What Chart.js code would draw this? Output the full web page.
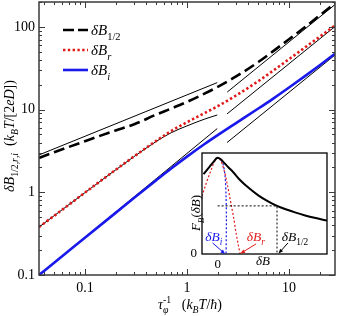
<!DOCTYPE html>
<html><head><meta charset="utf-8">
<script src="https://cdn.jsdelivr.net/npm/chart.js@4"></script>
<style>
html,body{margin:0;padding:0;background:#fff;overflow:hidden}
#wrap{position:relative;width:339px;height:316px}
#main{position:absolute;left:0;top:0}
#inset{position:absolute;left:180px;top:145px}
</style></head><body>
<div id="wrap"><canvas id="main" width="339" height="316"></canvas><canvas id="inset" width="155" height="130"></canvas></div>
<script>
// ---------- main chart data ----------
const tauInv   = [0.0355, 0.05, 0.1, 0.2, 0.3, 0.5, 0.7, 1, 1.5, 2, 3, 5, 7, 10, 15, 20, 28.2];
const dBhalf   = [2.6, 3.05, 4.15, 5.6, 6.6, 8.7, 10.3, 12.4, 15.7, 18.8, 25.0, 37.6, 50.9, 70.9, 104, 138, 193];
const dBr      = [0.38, 0.52, 0.99, 1.87, 2.69, 4.19, 5.5, 7.04, 9.12, 11.0, 14.7, 22.1, 29.6, 40.8, 58.8, 76.2, 104];
const dBi      = [0.1, 0.141, 0.282, 0.564, 0.846, 1.40, 1.94, 2.7, 3.86, 4.91, 6.82, 10.3, 13.6, 18.5, 26.5, 34.4, 47.4];
// asymptotes (thin black)
const asymHalfLoX = [0.0355, 1.98],  asymHalfLoY = [2.83, 21.2];
const asymHalfHiX = [2.48, 28.2],    asymHalfHiY = [16.3, 186];
const asymRLoX    = [0.0355, 0.1, 0.3, 0.5, 0.7, 1, 1.5, 1.98], asymRLoY = [0.38, 0.99, 2.68, 4.12, 5.25, 6.35, 7.7, 8.6];
const asymRHiX    = [2.47, 28.2],    asymRHiY    = [8.87, 101];
const asymILoX    = [0.0355, 1.98],  asymILoY    = [0.1, 5.9];
const asymIHiX    = [2.47, 28.2],    asymIHiY    = [4.0, 45.7];
const xTicks = [0.1, 1, 10];
const yTicks = [0.1, 1, 10, 100];
const seriesNames = ['δB_1/2', 'δB_r', 'δB_i'];

// ---------- inset data ----------
const fbX  = [-0.45, -0.3, -0.15, 0, 0.1, 0.2, 0.35, 0.5, 0.7, 1.0, 1.3, 1.6, 1.9, 2.2, 2.5, 2.8, 3.1, 3.5];
const fbY  = [0.83, 0.89, 0.95, 1.0, 0.985, 0.95, 0.9, 0.85, 0.775, 0.685, 0.61, 0.55, 0.5, 0.462, 0.43, 0.401, 0.376, 0.348];
const fbrX = [-0.5, -0.35, -0.2, -0.1, 0, 0.1, 0.2, 0.3, 0.4, 0.5, 0.6, 0.72];
const fbrY = [0.6, 0.75, 0.88, 0.96, 1.0, 0.97, 0.88, 0.74, 0.57, 0.4, 0.2, 0.0];
const fbiX = [0, 0.1, 0.18, 0.24, 0.27, 0.28, 0.27];
const fbiY = [1.0, 0.98, 0.93, 0.8, 0.6, 0.35, 0.0];
const halfX = [0, 1.9, 1.9], halfY = [0.5, 0.5, 0];

const pts = (xs, ys) => xs.map((x, i) => ({x, y: ys[i]}));
const SERIF = '"Liberation Serif", "DejaVu Serif", serif';
const BLUE = 'rgb(25,25,235)', RED = 'rgb(225,25,25)';

function segFont(f, size) {
  const s = (f.includes('b') || f.includes('p')) ? size * 0.7 : size;
  return (f.includes('i') ? 'italic ' : '') + s.toFixed(1) + 'px ' + SERIF;
}
function richWidth(ctx, segs, size) {
  let w = 0;
  for (const [t, f] of segs) { ctx.font = segFont(f, size); if (!f.includes('n')) w += ctx.measureText(t).width; }
  return w;
}
function drawRich(ctx, segs, x, y, size, color, align, rot) {
  ctx.save();
  ctx.translate(x, y);
  if (rot) ctx.rotate(rot);
  ctx.fillStyle = color;
  ctx.textBaseline = 'alphabetic';
  ctx.textAlign = 'left';
  const w = richWidth(ctx, segs, size);
  let cx = align === 'center' ? -w / 2 : 0;
  for (const [t, f] of segs) {
    ctx.font = segFont(f, size);
    let dy = 0;
    if (f.includes('b')) dy = size * 0.3;
    if (f.includes('p')) dy = -size * 0.42;
    ctx.fillText(t, cx, dy);
    if (!f.includes('n')) cx += ctx.measureText(t).width;
  }
  ctx.restore();
}
const noPad = s => { s.paddingTop = 0; s.paddingBottom = 0; s.paddingLeft = 0; s.paddingRight = 0; };

const frameMain = {
  id: 'frameMain',
  afterDraw(c) {
    const ctx = c.ctx, a = c.chartArea, xs = c.scales.x, ys = c.scales.y;
    ctx.save();
    ctx.strokeStyle = '#3a3a3a';
    ctx.lineWidth = 1;
    const ln = (x1, y1, x2, y2) => { ctx.beginPath(); ctx.moveTo(x1, y1); ctx.lineTo(x2, y2); ctx.stroke(); };
    for (let e = -3; e <= 3; e++) for (let m = 1; m <= 9; m++) {
      const v = m * Math.pow(10, e);
      const L = m === 1 ? 6 : 3;
      if (v >= xs.min && v <= xs.max) {
        const p = Math.round(xs.getPixelForValue(v)) + 0.5;
        ln(p, a.bottom, p, a.bottom - L); ln(p, a.top, p, a.top + L);
      }
      if (v >= ys.min && v <= ys.max) {
        const p = Math.round(ys.getPixelForValue(v)) + 0.5;
        ln(a.left, p, a.left + L, p); ln(a.right, p, a.right - L, p);
      }
    }
    ctx.lineWidth = 1.5;
    ctx.strokeRect(a.left, a.top, a.right - a.left, a.bottom - a.top);
    ctx.restore();
    drawRich(ctx, [['δB','i'],['1/2,','b'],['r','bi'],[',','b'],['i','bi'],['  (',''],['k','i'],['B','bi'],['T','i'],['/[2',''],['eD','i'],['])','']],
      14, 136, 14, '#000', 'center', -Math.PI / 2);
    drawRich(ctx, [['τ','i'],['φ','bin'],['-1','p'],['   (',''],['k','i'],['B','bi'],['T','i'],['/',''],['ħ','i'],[')','']],
      190, 309, 14, '#000', 'center', 0);
    const leg = [
      {y: 30, color: '#000', dash: [11, 4], w: 2.6},
      {y: 50, color: RED, dash: [2.4, 2.4], w: 2.6},
      {y: 70, color: BLUE, dash: [], w: 2.6}
    ];
    const labs = [[['δB','i'],['1/2','b']], [['δB','i'],['r','bi']], [['δB','i'],['i','bi']]];
    leg.forEach((l, k) => {
      ctx.save();
      ctx.strokeStyle = l.color; ctx.lineWidth = l.w; ctx.setLineDash(l.dash);
      ctx.beginPath(); ctx.moveTo(63, l.y); ctx.lineTo(88, l.y); ctx.stroke();
      ctx.restore();
      drawRich(ctx, labs[k], 91, l.y + 5, 15, '#000', 'left', 0);
    });
  }
};

const tickFont = {family: SERIF, size: 14};
new Chart(document.getElementById('main'), {
  type: 'scatter',
  data: {
    datasets: [
      {label: seriesNames[0], data: pts(tauInv, dBhalf), borderColor: '#000', borderWidth: 2.6, borderDash: [11, 5]},
      {label: seriesNames[1], data: pts(tauInv, dBr), borderColor: RED, borderWidth: 2.6, borderDash: [2.4, 2.4]},
      {label: seriesNames[2], data: pts(tauInv, dBi), borderColor: BLUE, borderWidth: 2.6},
      {data: pts(asymHalfLoX, asymHalfLoY), borderColor: '#000', borderWidth: 1},
      {data: pts(asymHalfHiX, asymHalfHiY), borderColor: '#000', borderWidth: 1},
      {data: pts(asymRLoX, asymRLoY), borderColor: '#000', borderWidth: 1},
      {data: pts(asymRHiX, asymRHiY), borderColor: '#000', borderWidth: 1},
      {data: pts(asymILoX, asymILoY), borderColor: '#000', borderWidth: 1},
      {data: pts(asymIHiX, asymIHiY), borderColor: '#000', borderWidth: 1}
    ].map(d => Object.assign({showLine: true, pointRadius: 0, fill: false, cubicInterpolationMode: 'monotone'}, d))
  },
  options: {
    animation: false, responsive: false, devicePixelRatio: 1,
    layout: {padding: {top: 2, right: 4, left: 0, bottom: 0}},
    plugins: {legend: {display: false}, tooltip: {enabled: false}},
    scales: {
      x: {type: 'logarithmic', min: 0.0355, max: 28.2,
        afterBuildTicks: s => { s.ticks = xTicks.map(v => ({value: v, major: true})); },
        afterFit: s => { s.height = 41; noPad(s); },
        grid: {display: false, drawTicks: false}, border: {display: false},
        ticks: {font: tickFont, color: '#000', padding: 5, maxRotation: 0, autoSkip: false, callback: v => String(v)}},
      y: {type: 'logarithmic', min: 0.1, max: 200,
        afterBuildTicks: s => { s.ticks = yTicks.map(v => ({value: v, major: true})); },
        afterFit: s => { s.width = 39; noPad(s); },
        grid: {display: false, drawTicks: false}, border: {display: false},
        ticks: {font: tickFont, color: '#000', padding: 4, autoSkip: false, callback: v => String(v)}}
    }
  },
  plugins: [frameMain]
});

// ---------- inset ----------
const insetDecor = {
  id: 'insetDecor',
  beforeDatasetsDraw(c) {
    const ctx = c.ctx, a = c.chartArea;
    ctx.save(); ctx.fillStyle = '#fff'; ctx.fillRect(a.left, a.top, a.right - a.left, a.bottom - a.top); ctx.restore();
  },
  afterDraw(c) {
    const ctx = c.ctx, a = c.chartArea, xs = c.scales.x, ys = c.scales.y;
    const P = (x, y) => [xs.getPixelForValue(x), ys.getPixelForValue(y)];
    ctx.save();
    ctx.strokeStyle = '#000'; ctx.lineWidth = 1.3;
    ctx.strokeRect(a.left, a.top, a.right - a.left, a.bottom - a.top);
    ctx.restore();
    const arrow = (x1, y1, x2, y2, col) => {
      const [p1x, p1y] = P(x1, y1), [p2x, p2y] = P(x2, y2);
      const ang = Math.atan2(p2y - p1y, p2x - p1x), h = 5;
      ctx.save(); ctx.strokeStyle = col; ctx.fillStyle = col; ctx.lineWidth = 1;
      ctx.beginPath(); ctx.moveTo(p1x, p1y); ctx.lineTo(p2x - Math.cos(ang) * 3, p2y - Math.sin(ang) * 3); ctx.stroke();
      ctx.beginPath(); ctx.moveTo(p2x, p2y);
      ctx.lineTo(p2x - h * Math.cos(ang - 0.4), p2y - h * Math.sin(ang - 0.4));
      ctx.lineTo(p2x - h * Math.cos(ang + 0.4), p2y - h * Math.sin(ang + 0.4));
      ctx.closePath(); ctx.fill(); ctx.restore();
    };
    arrow(-0.16, 0.115, 0.24, 0.0, BLUE);
    arrow(1.23, 0.105, 0.73, 0.005, RED);
    arrow(2.25, 0.115, 1.95, 0.005, '#000');
    let [lx, ly] = P(-0.4, 0.14);
    drawRich(ctx, [['δB','i'],['i','bi']], lx, ly, 13.5, BLUE, 'left', 0);
    [lx, ly] = P(0.93, 0.14);
    drawRich(ctx, [['δB','i'],['r','bi']], lx, ly, 13.5, RED, 'left', 0);
    [lx, ly] = P(2.05, 0.14);
    drawRich(ctx, [['δB','i'],['1/2','b']], lx, ly, 13.5, '#000', 'left', 0);
    drawRich(ctx, [['F','i'],['B','bi'],['(',''],['δB','i'],[')','']], 20, 68, 13, '#000', 'center', -Math.PI / 2);
    drawRich(ctx, [['δB','i']], 83, 120, 13, '#000', 'center', 0);
  }
};
new Chart(document.getElementById('inset'), {
  type: 'scatter',
  data: {
    datasets: [
      {data: pts(fbX, fbY), borderColor: '#000', borderWidth: 2, cubicInterpolationMode: 'monotone'},
      {data: pts(halfX, halfY), borderColor: '#000', borderWidth: 1, borderDash: [2, 2], tension: 0},
      {data: pts(fbrX, fbrY), borderColor: RED, borderWidth: 1.2, borderDash: [2, 2], cubicInterpolationMode: 'monotone'},
      {data: pts(fbiX, fbiY), borderColor: BLUE, borderWidth: 1.2, borderDash: [2, 2], tension: 0.3}
    ].map(d => Object.assign({showLine: true, pointRadius: 0, fill: false}, d))
  },
  options: {
    animation: false, responsive: false, devicePixelRatio: 1,
    layout: {padding: {top: 8, right: 8, left: 0, bottom: 0}},
    plugins: {legend: {display: false}, tooltip: {enabled: false}},
    scales: {
      x: {type: 'linear', min: -0.5, max: 3.5,
        afterBuildTicks: s => { s.ticks = [{value: 0}]; },
        afterFit: s => { s.height = 21; noPad(s); },
        grid: {display: false, drawTicks: false}, border: {display: false},
        ticks: {font: {family: SERIF, size: 13}, color: '#000', padding: 3, maxRotation: 0, callback: v => String(v)}},
      y: {type: 'linear', min: 0, max: 1.05,
        afterBuildTicks: s => { s.ticks = [{value: 0}]; },
        afterFit: s => { s.width = 22; noPad(s); },
        grid: {display: false, drawTicks: false}, border: {display: false},
        ticks: {font: {family: SERIF, size: 13}, color: '#000', padding: 5, callback: v => String(v)}}
    }
  },
  plugins: [insetDecor]
});
</script>
</body></html>
